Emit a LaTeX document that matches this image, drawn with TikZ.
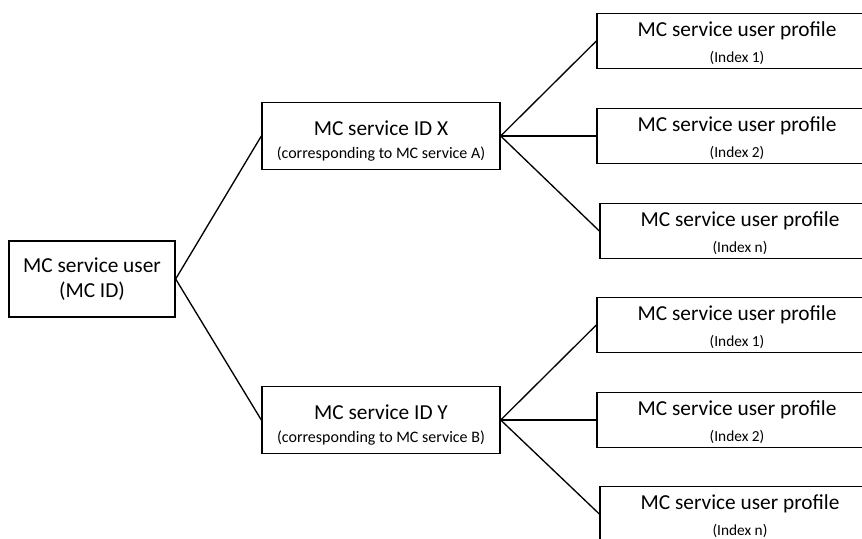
\documentclass[tikz,border=0pt]{standalone}
\usepackage{fontspec}
\setmainfont{Carlito}
\usetikzlibrary{positioning}
\newcommand{\bigtxt}{\fontsize{16}{19}\selectfont}
\newcommand{\smalltxt}{\fontsize{11.5}{14}\selectfont}

\begin{document}
\begin{tikzpicture}[x=0.75pt,y=-0.75pt,
    box/.style={draw,line width=1pt,align=center,inner sep=0pt},
    idbox/.style={box,minimum width=178.5pt,minimum height=50.25pt},
    profbox/.style={box,minimum width=210pt,minimum height=41.5pt},
    link/.style={line width=1pt}]
    \useasboundingbox (0,0) rectangle (862,538);
    \clip (0,0) rectangle (862,538);

    \node[box,minimum width=124.5pt,minimum height=57pt] (user) at (92,279)
        {\bigtxt MC service user\\[7pt]\bigtxt (MC ID)};

    \node[idbox] (idX) at (381,136)
        {\bigtxt\rule{0pt}{19pt}MC service ID X\\[5.5pt]{\fontsize{12}{14}\selectfont (corresponding to MC service A)}};
    \node[idbox] (idY) at (381,420)
        {\bigtxt\rule{0pt}{19pt}MC service ID Y\\[5.5pt]{\fontsize{12}{14}\selectfont (corresponding to MC service B)}};

    \node[profbox] (pX1) at (737,41)  {\bigtxt\rule{0pt}{14.5pt}MC service user profile\\[7pt]\smalltxt (Index 1)};
    \node[profbox] (pX2) at (737,136) {\bigtxt\rule{0pt}{14.5pt}MC service user profile\\[7pt]\smalltxt (Index 2)};
    \node[profbox] (pXn) at (740,231) {\bigtxt\rule{0pt}{14.5pt}MC service user profile\\[7pt]\smalltxt (Index n)};
    \node[profbox] (pY1) at (737,325) {\bigtxt\rule{0pt}{14.5pt}MC service user profile\\[7pt]\smalltxt (Index 1)};
    \node[profbox] (pY2) at (737,420) {\bigtxt\rule{0pt}{14.5pt}MC service user profile\\[7pt]\smalltxt (Index 2)};
    \node[profbox] (pYn) at (740,514) {\bigtxt\rule{0pt}{14.5pt}MC service user profile\\[7pt]\smalltxt (Index n)};

    \draw[link] (user.east) -- (idX.west);
    \draw[link] (user.east) -- (idY.west);
    \draw[link] (idX.east) -- (pX1.west);
    \draw[link] (idX.east) -- (pX2.west);
    \draw[link] (idX.east) -- (pXn.west);
    \draw[link] (idY.east) -- (pY1.west);
    \draw[link] (idY.east) -- (pY2.west);
    \draw[link] (idY.east) -- (pYn.west);
\end{tikzpicture}
\end{document}
